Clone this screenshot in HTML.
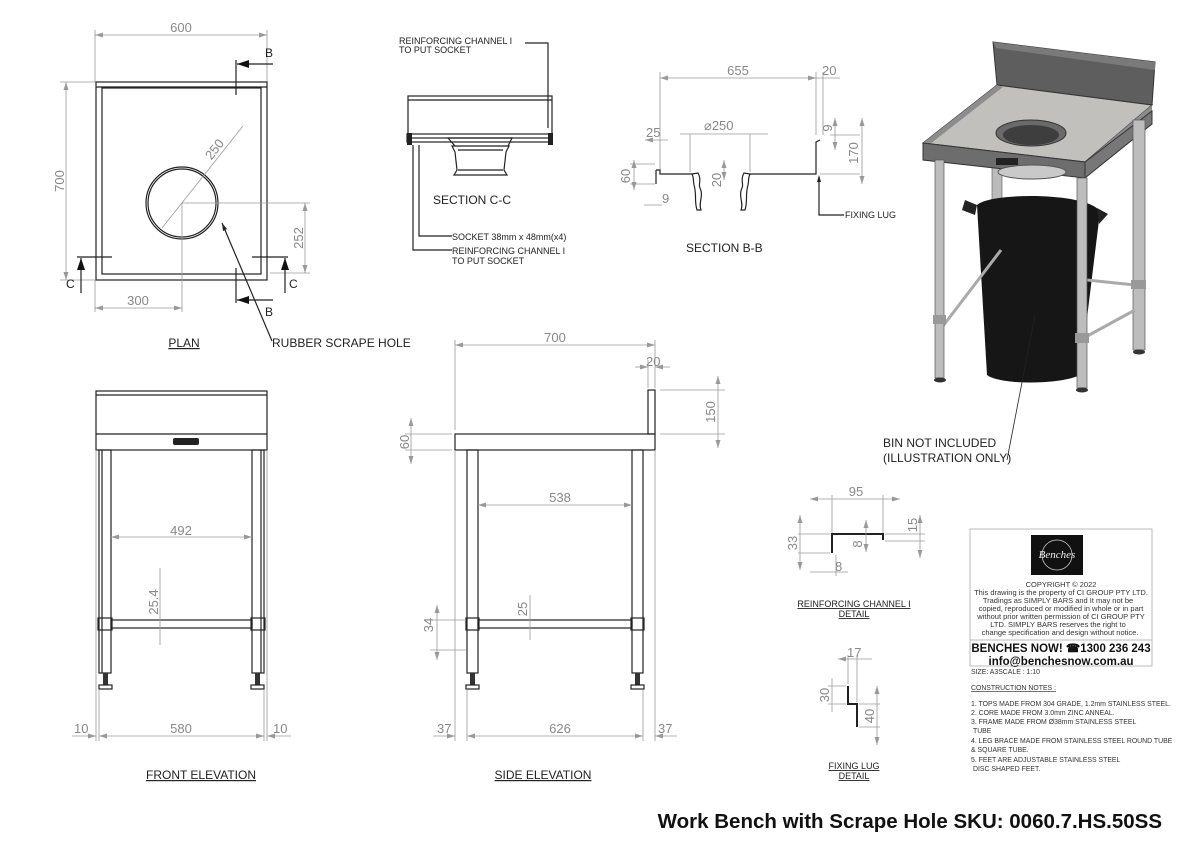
<!DOCTYPE html>
<html><head><meta charset="utf-8"><style>
html,body{margin:0;padding:0;background:#fff}
svg{display:block}
.d{stroke:#9a9a9a;stroke-width:0.8;fill:none}
.k{stroke:#222;stroke-width:1.2;fill:none}
.kt{stroke:#222;stroke-width:2;fill:none}
.dim{font-family:"Liberation Sans",sans-serif;font-size:13px;fill:#888}
.lb{font-family:"Liberation Sans",sans-serif;font-size:12px;fill:#222}
.sm{font-family:"Liberation Sans",sans-serif;font-size:9px;fill:#222}
.nt{font-family:"Liberation Sans",sans-serif;font-size:7.5px;fill:#333}
.cn{font-family:"Liberation Sans",sans-serif;font-size:6.9px;fill:#333}
</style></head><body>
<svg width="1200" height="848" viewBox="0 0 1200 848" xmlns="http://www.w3.org/2000/svg">
<defs>
<marker id="a" markerWidth="8" markerHeight="6" refX="8" refY="3" orient="auto-start-reverse" markerUnits="userSpaceOnUse"><path d="M0,0.5 L8,3 L0,5.5z" fill="#999"/></marker>
<marker id="b" markerWidth="12" markerHeight="8" refX="12" refY="4" orient="auto" markerUnits="userSpaceOnUse"><path d="M0,0 L12,4 L0,8z" fill="#111"/></marker>
</defs>

<!-- PLAN -->
<g>
<line class="d" x1="95" y1="30" x2="95" y2="82"/><line class="d" x1="267" y1="30" x2="267" y2="82"/>
<line class="d" x1="95" y1="35" x2="267" y2="35" marker-start="url(#a)" marker-end="url(#a)"/>
<text class="dim" x="181" y="32" text-anchor="middle">600</text>
<line class="d" x1="60" y1="82" x2="95" y2="82"/><line class="d" x1="60" y1="280" x2="95" y2="280"/>
<line class="d" x1="66" y1="82" x2="66" y2="280" marker-start="url(#a)" marker-end="url(#a)"/>
<text class="dim" transform="translate(64,181) rotate(-90)" text-anchor="middle">700</text>
<rect x="96" y="82" width="171" height="198" class="k" stroke-width="1.6"/>
<rect x="102" y="88" width="159" height="186" class="k"/>
<line class="k" x1="96" y1="87" x2="267" y2="87"/>
<circle cx="182" cy="203" r="36" class="k"/>
<circle cx="182" cy="203" r="34" class="k" stroke-width="0.8"/>
<line class="d" x1="243" y1="126" x2="162" y2="228"/>
<text class="dim" transform="translate(218,152) rotate(-52)" text-anchor="middle">250</text>
<line class="d" x1="182" y1="203" x2="310" y2="203"/>
<line class="d" x1="182" y1="203" x2="182" y2="312"/>
<line class="d" x1="270" y1="273" x2="310" y2="273"/>
<line class="d" x1="305" y1="203" x2="305" y2="273" marker-start="url(#a)" marker-end="url(#a)"/>
<text class="dim" transform="translate(303,238) rotate(-90)" text-anchor="middle">252</text>
<line class="d" x1="95" y1="280" x2="95" y2="312"/>
<line class="d" x1="95" y1="308" x2="182" y2="308" marker-start="url(#a)" marker-end="url(#a)"/>
<text class="dim" x="138" y="305" text-anchor="middle">300</text>
<line class="k" x1="236" y1="60" x2="236" y2="95"/>
<line class="k" x1="273" y1="64" x2="237" y2="64" marker-end="url(#b)"/>
<text class="lb" x="265" y="57">B</text>
<line class="k" x1="236" y1="268" x2="236" y2="303"/>
<line class="k" x1="273" y1="300" x2="237" y2="300" marker-end="url(#b)"/>
<text class="lb" x="265" y="316">B</text>
<line class="k" x1="77" y1="257" x2="112" y2="257"/>
<line class="k" x1="81" y1="293" x2="81" y2="258" marker-end="url(#b)"/>
<text class="lb" x="66" y="288">C</text>
<line class="k" x1="252" y1="257" x2="288" y2="257"/>
<line class="k" x1="285" y1="293" x2="285" y2="258" marker-end="url(#b)"/>
<text class="lb" x="289" y="288">C</text>
<line class="k" x1="222" y1="223" x2="272" y2="341" stroke-width="0.8"/>
<path d="M222,223 l1,8 l4,-2z" fill="#222"/>
<text class="lb" x="272" y="347">RUBBER SCRAPE HOLE</text>
<text class="lb" x="184" y="347" text-anchor="middle" text-decoration="underline">PLAN</text>
</g>

<!-- SECTION C-C -->
<g>
<text class="sm" x="399" y="44">REINFORCING  CHANNEL  I</text>
<text class="sm" x="399" y="53">TO PUT SOCKET</text>
<polyline class="k" stroke-width="0.8" points="525,43 548,43 548,128"/>
<rect x="408" y="96" width="144" height="42" class="k"/>
<line class="k" x1="408" y1="100" x2="552" y2="100"/>
<rect x="407" y="134" width="145" height="8" class="k" stroke-width="0.9"/>
<rect x="407" y="133" width="5" height="12" fill="#222"/><rect x="548" y="133" width="5" height="12" fill="#222"/>
<path class="k" stroke-width="0.9" d="M448,138 L512,138 L508,146 L455,146 Z M452,146 L509,146 L506,152 L504,170 L507,175 L454,175 L457,170 L455,152 Z"/>
<line class="k" stroke-width="0.6" x1="458" y1="150" x2="503" y2="150"/><line class="k" stroke-width="0.6" x1="458" y1="170" x2="503" y2="170"/>
<text class="lb" x="433" y="204" font-size="14">SECTION C-C</text>
<polyline class="k" stroke-width="0.8" points="419,145 419,236 452,236"/>
<polyline class="k" stroke-width="0.8" points="413,145 413,250 452,250"/>
<text class="sm" x="452" y="240">SOCKET  38mm  x  48mm(x4)</text>
<text class="sm" x="452" y="254">REINFORCING CHANNEL I</text>
<text class="sm" x="452" y="264">TO PUT SOCKET</text>
</g>

<!-- SECTION B-B -->
<g>
<line class="d" x1="660" y1="72" x2="660" y2="172"/><line class="d" x1="816" y1="72" x2="816" y2="135"/><line class="d" x1="823" y1="72" x2="823" y2="135"/>
<line class="d" x1="660" y1="78" x2="816" y2="78" marker-start="url(#a)" marker-end="url(#a)"/>
<line class="d" x1="816" y1="78" x2="840" y2="78"/>
<text class="dim" x="738" y="75" text-anchor="middle">655</text>
<text class="dim" x="822" y="75">20</text>
<line class="d" x1="680" y1="134" x2="768" y2="134"/>
<line class="d" x1="690" y1="134" x2="690" y2="172"/><line class="d" x1="750" y1="134" x2="750" y2="172"/>
<text class="dim" x="704" y="130">⌀250</text>
<line class="d" x1="645" y1="140" x2="668" y2="140" marker-start="url(#a)"/>
<text class="dim" x="646" y="137">25</text>
<path class="k" d="M656,170 L660,170 L660,174 L692,174"/>
<line class="k" x1="656" y1="170" x2="656" y2="184"/>
<path class="k" stroke-width="0.9" d="M692,174 L698,173 C702,180 698,184 700,188 C704,196 698,203 701,210 L697,210 C694,200 697,195 694,185 C693,180 694,178 692,174Z"/>
<path class="k" stroke-width="0.9" d="M750,174 L744,173 C740,180 744,184 742,188 C738,196 744,203 741,210 L745,210 C748,200 745,195 748,185 C749,180 748,178 750,174Z"/>
<path class="k" d="M750,174 L816,174 L816,142 L820,140"/>
<line class="d" x1="630" y1="164" x2="655" y2="164"/><line class="d" x1="630" y1="184" x2="655" y2="184"/>
<line class="d" x1="634" y1="160" x2="634" y2="190" marker-start="url(#a)" marker-end="url(#a)"/>
<text class="dim" transform="translate(630,176) rotate(-90)" text-anchor="middle">60</text>
<line class="d" x1="644" y1="205" x2="662" y2="205"/><text class="dim" x="662" y="203">9</text>
<line class="d" x1="724" y1="160" x2="724" y2="180" marker-start="url(#a)" marker-end="url(#a)"/>
<text class="dim" transform="translate(721,180) rotate(-90)" text-anchor="middle">20</text>
<line class="d" x1="830" y1="135" x2="860" y2="135"/><line class="d" x1="820" y1="174" x2="860" y2="174"/>
<line class="d" x1="835" y1="118" x2="835" y2="150" marker-start="url(#a)" marker-end="url(#a)"/>
<text class="dim" transform="translate(832,128) rotate(-90)" text-anchor="middle">9</text>
<line class="d" x1="862" y1="118" x2="862" y2="184" marker-start="url(#a)" marker-end="url(#a)"/>
<text class="dim" transform="translate(858,153) rotate(-90)" text-anchor="middle">170</text>
<polyline class="k" stroke-width="0.8" points="819,177 819,215 844,215"/>
<path d="M819,175 l-2,7 l4,0z" fill="#222"/>
<text class="sm" x="845" y="218">FIXING LUG</text>
<text class="lb" x="686" y="252" font-size="14">SECTION B-B</text>
</g>

<!-- 3D render -->
<g>
<polygon points="993,42 1155,62 1152,105 997,85" fill="#5e5e5e" stroke="#333"/>
<polygon points="993,42 1155,62 1155,70 996,48" fill="#7a7a7a"/>
<rect x="992" y="120" width="10" height="80" fill="#bbb" stroke="#555" stroke-width="0.6"/>
<polygon points="923,143 997,85 1152,105 1085,162" fill="#c2c0bd" stroke="#333"/>
<polygon points="923,143 997,85 1003,87 930,144" fill="#8d8d8d"/>
<polygon points="1085,162 1152,105 1152,111 1086,165" fill="#8d8d8d"/>
<ellipse cx="1031" cy="133" rx="35" ry="13" fill="#6a6a6a" stroke="#333"/>
<ellipse cx="1031" cy="135" rx="28" ry="10" fill="#3e3e3e"/>
<polygon points="923,143 1085,162 1085,178 923,160" fill="#6d6d6d" stroke="#333"/>
<polygon points="1085,162 1152,111 1152,124 1085,178" fill="#777" stroke="#333"/>
<rect x="996" y="158" width="22" height="7" fill="#222"/>
<ellipse cx="1032" cy="172" rx="34" ry="7" fill="#c9c9c9" stroke="#555"/>
<rect x="1133" y="120" width="12" height="230" fill="#bdbdbd" stroke="#555" stroke-width="0.7"/>
<path d="M977,205 C990,192 1090,192 1100,212 L1080,375 C1060,385 1000,385 987,375 Z" fill="#161616"/>
<path d="M965,200 L977,205 L975,215 L962,210Z M1097,208 L1108,214 L1099,224 Z" fill="#222"/>
<line x1="940" y1="330" x2="1001" y2="250" stroke="#aaa" stroke-width="3"/>
<line x1="1080" y1="340" x2="1135" y2="310" stroke="#aaa" stroke-width="3"/>
<line x1="1087" y1="280" x2="1135" y2="285" stroke="#aaa" stroke-width="3"/>
<rect x="935" y="160" width="9" height="218" fill="#bdbdbd" stroke="#555" stroke-width="0.7"/>
<rect x="1077" y="178" width="10" height="210" fill="#bdbdbd" stroke="#555" stroke-width="0.7"/>
<rect x="933" y="315" width="13" height="9" fill="#999"/><rect x="1075" y="333" width="14" height="10" fill="#999"/><rect x="1131" y="280" width="15" height="9" fill="#999"/>
<ellipse cx="940" cy="380" rx="6" ry="2.5" fill="#333"/><ellipse cx="1082" cy="390" rx="6" ry="2.5" fill="#333"/><ellipse cx="1139" cy="352" rx="6" ry="2.5" fill="#333"/>
<line x1="1035" y1="315" x2="1007" y2="460" stroke="#222" stroke-width="0.8"/>
<text class="lb" x="883" y="447">BIN NOT INCLUDED</text>
<text class="lb" x="883" y="462">(ILLUSTRATION ONLY)</text>
</g>

<!-- FRONT ELEVATION -->
<g>
<rect x="96" y="391" width="171" height="59" class="k"/>
<line class="k" x1="96" y1="395" x2="267" y2="395"/>
<line class="k" x1="96" y1="434" x2="267" y2="434"/>
<rect x="173" y="438" width="26" height="7" rx="2" fill="#222"/>
<rect x="99" y="450" width="12" height="223" class="k" stroke-width="0.9"/>
<rect x="252" y="450" width="12" height="223" class="k" stroke-width="0.9"/>
<line class="k" stroke-width="0.6" x1="102" y1="450" x2="102" y2="673"/><line class="k" stroke-width="0.6" x1="261" y1="450" x2="261" y2="673"/>
<rect x="111" y="620" width="141" height="8" class="k" stroke-width="0.9"/>
<rect x="98" y="618" width="14" height="12" fill="#fff" class="k" stroke-width="0.9"/>
<rect x="251" y="618" width="14" height="12" fill="#fff" class="k" stroke-width="0.9"/>
<rect x="103" y="673" width="5" height="12" fill="#333"/><rect x="255" y="673" width="5" height="12" fill="#333"/>
<rect x="99" y="685" width="13" height="4" class="k" stroke-width="0.9"/><rect x="251" y="685" width="13" height="4" class="k" stroke-width="0.9"/>
<line class="d" x1="111" y1="537" x2="252" y2="537" marker-start="url(#a)" marker-end="url(#a)"/>
<text class="dim" x="181" y="535" text-anchor="middle">492</text>
<line class="d" x1="160" y1="568" x2="160" y2="645"/>
<text class="dim" transform="translate(158,602) rotate(-90)" text-anchor="middle">25.4</text>
<line class="d" x1="96" y1="450" x2="96" y2="741"/><line class="d" x1="99" y1="690" x2="99" y2="741"/>
<line class="d" x1="264" y1="690" x2="264" y2="741"/><line class="d" x1="267" y1="450" x2="267" y2="741"/>
<line class="d" x1="99" y1="736" x2="264" y2="736" marker-start="url(#a)" marker-end="url(#a)"/>
<line class="d" x1="72" y1="736" x2="96" y2="736" marker-end="url(#a)"/>
<line class="d" x1="291" y1="736" x2="267" y2="736" marker-end="url(#a)"/>
<text class="dim" x="181" y="733" text-anchor="middle">580</text>
<text class="dim" x="74" y="733">10</text><text class="dim" x="273" y="733">10</text>
<text class="lb" x="201" y="779" text-anchor="middle" text-decoration="underline">FRONT ELEVATION</text>
</g>

<!-- SIDE ELEVATION -->
<g>
<rect x="455" y="434" width="200" height="16" class="k"/>
<rect x="648" y="390" width="7" height="44" class="k"/>
<rect x="467" y="450" width="11" height="223" class="k" stroke-width="0.9"/>
<rect x="632" y="450" width="11" height="223" class="k" stroke-width="0.9"/>
<rect x="478" y="620" width="154" height="8" class="k" stroke-width="0.9"/>
<rect x="466" y="618" width="13" height="12" class="k" fill="#fff" stroke-width="0.9"/>
<rect x="631" y="618" width="13" height="12" class="k" fill="#fff" stroke-width="0.9"/>
<rect x="470" y="673" width="5" height="12" fill="#333"/><rect x="635" y="673" width="5" height="12" fill="#333"/>
<rect x="466" y="685" width="13" height="4" class="k" stroke-width="0.9"/><rect x="631" y="685" width="13" height="4" class="k" stroke-width="0.9"/>
<line class="d" x1="455" y1="340" x2="455" y2="430"/><line class="d" x1="655" y1="340" x2="655" y2="388"/><line class="d" x1="648" y1="360" x2="648" y2="388"/>
<line class="d" x1="455" y1="345" x2="655" y2="345" marker-start="url(#a)" marker-end="url(#a)"/>
<text class="dim" x="555" y="342" text-anchor="middle">700</text>
<line class="d" x1="635" y1="367" x2="648" y2="367" marker-end="url(#a)"/><line class="d" x1="670" y1="367" x2="655" y2="367" marker-end="url(#a)"/>
<text class="dim" x="646" y="366">20</text>
<line class="d" x1="660" y1="390" x2="725" y2="390"/><line class="d" x1="660" y1="434" x2="725" y2="434"/>
<line class="d" x1="718" y1="376" x2="718" y2="448" marker-start="url(#a)" marker-end="url(#a)"/>
<text class="dim" transform="translate(715,412) rotate(-90)" text-anchor="middle">150</text>
<line class="d" x1="405" y1="434" x2="452" y2="434"/><line class="d" x1="405" y1="450" x2="452" y2="450"/>
<line class="d" x1="411" y1="418" x2="411" y2="464" marker-start="url(#a)" marker-end="url(#a)"/>
<text class="dim" transform="translate(409,442) rotate(-90)" text-anchor="middle">60</text>
<line class="d" x1="478" y1="505" x2="632" y2="505" marker-start="url(#a)" marker-end="url(#a)"/>
<text class="dim" x="560" y="502" text-anchor="middle">538</text>
<line class="d" x1="530" y1="595" x2="530" y2="640"/>
<text class="dim" x="527" y="609" transform="rotate(-90 527 609)" text-anchor="middle">25</text>
<line class="d" x1="430" y1="620" x2="466" y2="620"/><line class="d" x1="430" y1="650" x2="466" y2="650"/>
<line class="d" x1="437" y1="605" x2="437" y2="660" marker-start="url(#a)" marker-end="url(#a)"/>
<text class="dim" transform="translate(433,625) rotate(-90)" text-anchor="middle">34</text>
<line class="d" x1="455" y1="450" x2="455" y2="741"/><line class="d" x1="467" y1="690" x2="467" y2="741"/>
<line class="d" x1="643" y1="690" x2="643" y2="741"/><line class="d" x1="655" y1="450" x2="655" y2="741"/>
<line class="d" x1="467" y1="736" x2="643" y2="736" marker-start="url(#a)" marker-end="url(#a)"/>
<line class="d" x1="433" y1="736" x2="455" y2="736" marker-end="url(#a)"/>
<line class="d" x1="677" y1="736" x2="655" y2="736" marker-end="url(#a)"/>
<text class="dim" x="560" y="733" text-anchor="middle">626</text>
<text class="dim" x="437" y="733">37</text><text class="dim" x="658" y="733">37</text>
<text class="lb" x="543" y="779" text-anchor="middle" text-decoration="underline">SIDE ELEVATION</text>
</g>

<!-- Reinforcing channel detail -->
<g>
<polyline class="kt" points="832,553 832,534 883,534 883,540"/>
<line class="d" x1="832" y1="495" x2="832" y2="533"/><line class="d" x1="883" y1="495" x2="883" y2="533"/>
<line class="d" x1="810" y1="499" x2="900" y2="499" marker-start="url(#a)" marker-end="url(#a)"/>
<text class="dim" x="856" y="496" text-anchor="middle">95</text>
<line class="d" x1="798" y1="534" x2="830" y2="534"/><line class="d" x1="798" y1="553" x2="830" y2="553"/>
<line class="d" x1="800" y1="515" x2="800" y2="570" marker-start="url(#a)" marker-end="url(#a)"/>
<text class="dim" transform="translate(797,543) rotate(-90)" text-anchor="middle">33</text>
<line class="d" x1="866" y1="520" x2="866" y2="552" marker-start="url(#a)" marker-end="url(#a)"/>
<text class="dim" transform="translate(862,544) rotate(-90)" text-anchor="middle">8</text>
<line class="d" x1="885" y1="534" x2="925" y2="534"/><line class="d" x1="885" y1="541" x2="925" y2="541"/>
<line class="d" x1="920" y1="515" x2="920" y2="558" marker-start="url(#a)" marker-end="url(#a)"/>
<text class="dim" transform="translate(917,525) rotate(-90)" text-anchor="middle">15</text>
<line class="d" x1="810" y1="572" x2="848" y2="572"/><line class="d" x1="836" y1="555" x2="836" y2="576"/>
<text class="dim" x="835" y="571">8</text>
<text class="sm" x="854" y="607" text-anchor="middle" text-decoration="underline">REINFORCING CHANNEL I</text>
<text class="sm" x="854" y="617" text-anchor="middle" text-decoration="underline">DETAIL</text>
</g>
<!-- Fixing lug detail -->
<g>
<polyline class="kt" points="848,686 848,704 857,704 857,727"/>
<line class="d" x1="848" y1="655" x2="848" y2="684"/><line class="d" x1="857" y1="655" x2="857" y2="702"/>
<line class="d" x1="838" y1="659" x2="872" y2="659" marker-start="url(#a)"/>
<text class="dim" x="847" y="657">17</text>
<line class="d" x1="828" y1="686" x2="846" y2="686"/><line class="d" x1="828" y1="704" x2="846" y2="704"/>
<line class="d" x1="832" y1="678" x2="832" y2="712"/>
<text class="dim" transform="translate(829,695) rotate(-90)" text-anchor="middle">30</text>
<line class="d" x1="859" y1="704" x2="880" y2="704"/><line class="d" x1="859" y1="727" x2="880" y2="727"/>
<line class="d" x1="877" y1="686" x2="877" y2="745" marker-start="url(#a)" marker-end="url(#a)"/>
<text class="dim" transform="translate(874,716) rotate(-90)" text-anchor="middle">40</text>
<text class="sm" x="854" y="769" text-anchor="middle" text-decoration="underline">FIXING LUG</text>
<text class="sm" x="854" y="779" text-anchor="middle" text-decoration="underline">DETAIL</text>
</g>

<!-- Info box -->
<g>
<rect x="970" y="529" width="182" height="137" fill="#fff" stroke="#bbb"/>
<rect x="1031" y="535" width="52" height="40" fill="#111"/>
<circle cx="1057" cy="555" r="15" fill="none" stroke="#ccc" stroke-width="0.8"/>
<text x="1057" y="558" font-family="Liberation Serif,serif" font-style="italic" font-size="11" fill="#eee" text-anchor="middle">Benches</text>
<text class="nt" x="1061" y="587" text-anchor="middle">COPYRIGHT © 2022</text>
<text class="nt" x="1061" y="595" text-anchor="middle">This drawing is the property of CI GROUP PTY LTD.</text>
<text class="nt" x="1058" y="603" text-anchor="middle">Tradings as SIMPLY BARS and It may not be</text>
<text class="nt" x="1061" y="611" text-anchor="middle">copied, reproduced or modified in whole or in part</text>
<text class="nt" x="1061" y="619" text-anchor="middle">without prior written permission of CI GROUP PTY</text>
<text class="nt" x="1058" y="627" text-anchor="middle">LTD. SIMPLY BARS reserves the right to</text>
<text class="nt" x="1060" y="635" text-anchor="middle">change specification and design without notice.</text>
<line x1="970" y1="640" x2="1152" y2="640" stroke="#bbb"/>
<text x="1061" y="652" font-family="Liberation Sans,sans-serif" font-weight="bold" font-size="11.5" fill="#111" text-anchor="middle">BENCHES NOW!  ☎1300 236 243</text>
<text x="1061" y="665" font-family="Liberation Sans,sans-serif" font-weight="bold" font-size="11.5" fill="#111" text-anchor="middle">info@benchesnow.com.au</text>
<text class="cn" x="971" y="674" fill="#555">SIZE: A3SCALE : 1:10</text>
<text class="cn" x="971" y="690" text-decoration="underline">CONSTRUCTION NOTES :</text>
<text class="cn" x="971" y="706">1. TOPS MADE FROM 304 GRADE, 1.2mm STAINLESS STEEL.</text>
<text class="cn" x="971" y="715">2. CORE MADE FROM 3.0mm ZINC ANNEAL.</text>
<text class="cn" x="971" y="724">3. FRAME MADE FROM Ø38mm STAINLESS STEEL</text>
<text class="cn" x="973" y="733">TUBE</text>
<text class="cn" x="971" y="743">4. LEG BRACE MADE FROM STAINLESS STEEL ROUND TUBE</text>
<text class="cn" x="971" y="752">&amp; SQUARE TUBE.</text>
<text class="cn" x="971" y="762">5. FEET ARE ADJUSTABLE STAINLESS STEEL</text>
<text class="cn" x="973" y="771">DISC SHAPED FEET.</text>
</g>

<text x="1162" y="828" font-family="Liberation Sans,sans-serif" font-weight="bold" font-size="20.5" fill="#111" text-anchor="end">Work Bench with Scrape Hole SKU: 0060.7.HS.50SS</text>
</svg>
</body></html>
